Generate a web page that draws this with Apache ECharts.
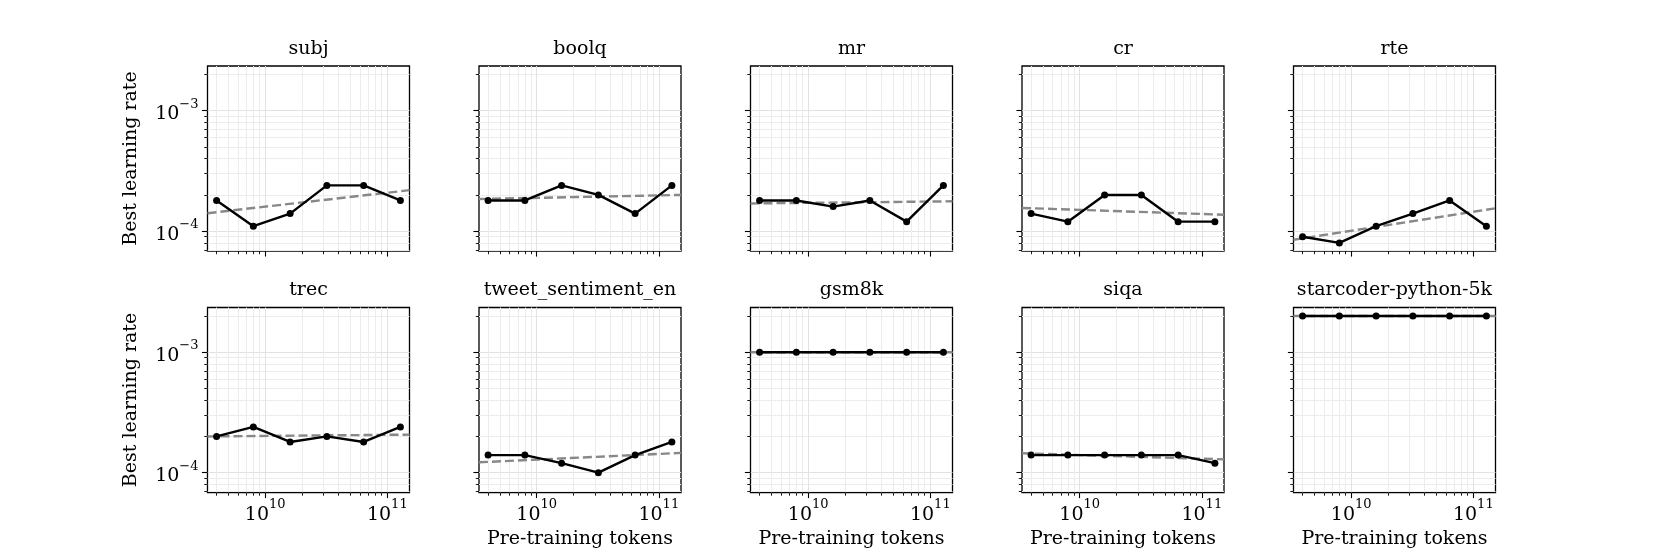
<!DOCTYPE html>
<html><head><meta charset="utf-8">
<script src="https://cdn.jsdelivr.net/npm/echarts@6/dist/echarts.min.js"></script>
<style>html,body{margin:0;padding:0;background:#fff}#c{width:1661px;height:554px}</style>
</head><body><div id="c"></div>
<script>
// ---------------- data ----------------
const taskNames = ['subj', 'boolq', 'mr', 'cr', 'rte', 'trec', 'tweet_sentiment_en', 'gsm8k', 'siqa', 'starcoder-python-5k'];
const tokens = [4e9, 8e9, 1.6e10, 3.2e10, 6.4e10, 1.28e11];

const lrSubj = [1.8e-4, 1.1e-4, 1.4e-4, 2.4e-4, 2.4e-4, 1.8e-4];
const lrBoolq = [1.8e-4, 1.8e-4, 2.4e-4, 2.0e-4, 1.4e-4, 2.4e-4];
const lrMr = [1.8e-4, 1.8e-4, 1.6e-4, 1.8e-4, 1.2e-4, 2.4e-4];
const lrCr = [1.4e-4, 1.2e-4, 2.0e-4, 2.0e-4, 1.2e-4, 1.2e-4];
const lrRte = [9e-5, 8e-5, 1.1e-4, 1.4e-4, 1.8e-4, 1.1e-4];
const lrTrec = [2.0e-4, 2.4e-4, 1.8e-4, 2.0e-4, 1.8e-4, 2.4e-4];
const lrTweet = [1.4e-4, 1.4e-4, 1.2e-4, 1.0e-4, 1.4e-4, 1.8e-4];
const lrGsm8k = [1e-3, 1e-3, 1e-3, 1e-3, 1e-3, 1e-3];
const lrSiqa = [1.4e-4, 1.4e-4, 1.4e-4, 1.4e-4, 1.4e-4, 1.2e-4];
const lrStarcoder = [2e-3, 2e-3, 2e-3, 2e-3, 2e-3, 2e-3];

// power-law fit values at the left and right ends of the x range
const fitSubj = [1.41e-4, 2.19e-4];
const fitBoolq = [1.85e-4, 2.0e-4];
const fitMr = [1.7e-4, 1.77e-4];
const fitCr = [1.56e-4, 1.37e-4];
const fitRte = [8.5e-5, 1.55e-4];
const fitTrec = [2.0e-4, 2.07e-4];
const fitTweet = [1.22e-4, 1.46e-4];
const fitGsm8k = [1e-3, 1e-3];
const fitSiqa = [1.45e-4, 1.29e-4];
const fitStarcoder = [2e-3, 2e-3];

const xLimits = [3.37e9, 1.52e11];
const yLimits = [6.85e-5, 2.35e-3];
const xMajorTicks = [1e10, 1e11];
const xMinorTicks = [4e9, 5e9, 6e9, 7e9, 8e9, 9e9, 2e10, 3e10, 4e10, 5e10, 6e10, 7e10, 8e10, 9e10];
const yMajorTicks = [1e-4, 1e-3];
const yMinorTicks = [7e-5, 8e-5, 9e-5, 2e-4, 3e-4, 4e-4, 5e-4, 6e-4, 7e-4, 8e-4, 9e-4, 2e-3];

const xAxisTitle = 'Pre-training tokens';
const yAxisTitle = 'Best learning rate';

const lrSeries = [lrSubj, lrBoolq, lrMr, lrCr, lrRte, lrTrec, lrTweet, lrGsm8k, lrSiqa, lrStarcoder];
const fitSeries = [fitSubj, fitBoolq, fitMr, fitCr, fitRte, fitTrec, fitTweet, fitGsm8k, fitSiqa, fitStarcoder];

// ---------------- layout / style ----------------
const FONT = 'DejaVu Serif';
const colLeft = [207.5, 479, 750.5, 1022, 1293.5];
const rowTop = [66, 307.5];
const W = 202, H = 185;

const rich = {
  b: { fontFamily: FONT, fontSize: 19, color: '#000', lineHeight: 26, verticalAlign: 'bottom' },
  s: { fontFamily: FONT, fontSize: 13, color: '#000', lineHeight: 13, verticalAlign: 'top' }
};
function powLabel(v) {
  const e = Math.round(Math.log10(v));
  return '{b|10}{s|' + String(e).replace('-', '\u2212') + '}';
}

const grids = [], xAxes = [], yAxes = [], series = [], titles = [];
for (let i = 0; i < 10; i++) {
  const r = Math.floor(i / 5), c = i % 5;
  grids.push({ left: colLeft[c], top: rowTop[r], width: W, height: H, show: true,
    borderColor: '#000', borderWidth: 1.3, backgroundColor: 'transparent', containLabel: false });
  titles.push({ text: taskNames[i], left: colLeft[c] + W / 2, top: rowTop[r] - 28, textAlign: 'center', padding: 0,
    textStyle: { fontFamily: FONT, fontSize: 19, fontWeight: 'normal', color: '#000', lineHeight: 22 } });

  const showXLab = r === 1;
  const showXName = r === 1 && c > 0;
  xAxes.push({
    type: 'log', logBase: 10, gridIndex: i, position: 'bottom', min: xLimits[0], max: xLimits[1],
    axisLine: { show: false, onZero: false },
    axisTick: { show: true, length: 5.6, customValues: xMajorTicks, lineStyle: { color: '#000', width: 1.1 } },
    axisLabel: { show: showXLab, customValues: xMajorTicks, formatter: powLabel, rich: rich, margin: 6,
      fontFamily: FONT, fontSize: 19, color: '#000' },
    splitLine: { show: true, lineStyle: { color: '#e2e2e2', width: 1 } },
    minorTick: { show: false }, minorSplitLine: { show: false },
    name: showXName ? xAxisTitle : '', nameLocation: 'middle', nameGap: 37,
    nameTextStyle: { fontFamily: FONT, fontSize: 19, color: '#000' }
  });
  xAxes.push({
    type: 'log', logBase: 10, gridIndex: i, position: 'bottom', min: xLimits[0], max: xLimits[1],
    axisLine: { show: false, onZero: false },
    axisTick: { show: true, length: 3.2, customValues: xMinorTicks, lineStyle: { color: '#000', width: 0.9 } },
    axisLabel: { show: false },
    splitLine: { show: true, lineStyle: { color: '#ececec', width: 1 } }
  });
  const showY = c === 0;
  yAxes.push({
    type: 'log', logBase: 10, gridIndex: i, position: 'left', min: yLimits[0], max: yLimits[1],
    axisLine: { show: false, onZero: false },
    axisTick: { show: true, length: 5.6, customValues: yMajorTicks, lineStyle: { color: '#000', width: 1.1 } },
    axisLabel: { show: showY, customValues: yMajorTicks, formatter: powLabel, rich: rich, margin: 9,
      fontFamily: FONT, fontSize: 19, color: '#000' },
    splitLine: { show: true, lineStyle: { color: '#e2e2e2', width: 1 } },
    name: showY ? yAxisTitle : '', nameLocation: 'middle', nameGap: 67, nameRotate: 90,
    nameTextStyle: { fontFamily: FONT, fontSize: 19, color: '#000' }
  });
  yAxes.push({
    type: 'log', logBase: 10, gridIndex: i, position: 'left', min: yLimits[0], max: yLimits[1],
    axisLine: { show: false, onZero: false },
    axisTick: { show: true, length: 3.2, customValues: yMinorTicks, lineStyle: { color: '#000', width: 0.9 } },
    axisLabel: { show: false },
    splitLine: { show: true, lineStyle: { color: '#ececec', width: 1 } }
  });

  series.push({
    type: 'line', xAxisIndex: 2 * i, yAxisIndex: 2 * i,
    data: [[xLimits[0], fitSeries[i][0]], [xLimits[1], fitSeries[i][1]]],
    symbol: 'none', silent: true, z: 2,
    lineStyle: { color: '#888', width: 2.4, type: [9, 4] }
  });
  series.push({
    type: 'line', xAxisIndex: 2 * i, yAxisIndex: 2 * i,
    data: tokens.map((t, j) => [t, lrSeries[i][j]]),
    symbol: 'circle', symbolSize: 7, showSymbol: true, z: 3,
    itemStyle: { color: '#000' },
    lineStyle: { color: '#000', width: 2.4 }
  });
}

const chart = echarts.init(document.getElementById('c'), null, { renderer: 'canvas' });
chart.setOption({
  animation: false,
  backgroundColor: '#fff',
  title: titles,
  grid: grids,
  xAxis: xAxes,
  yAxis: yAxes,
  series: series
});
</script>
</body></html>
